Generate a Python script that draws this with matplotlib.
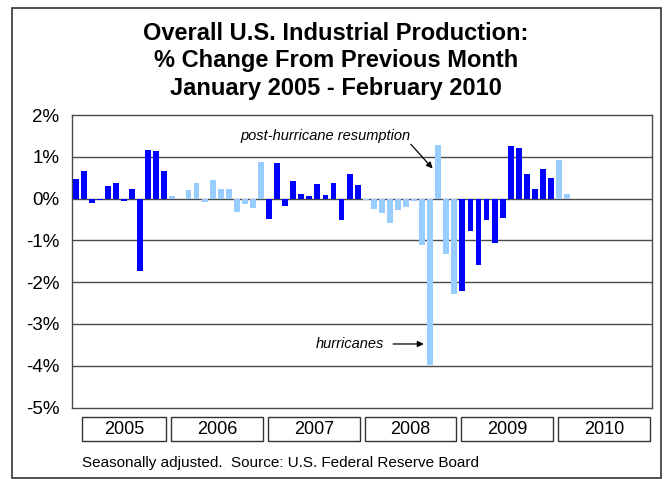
import matplotlib
matplotlib.use("Agg")
import matplotlib.pyplot as plt
from matplotlib.patches import Rectangle
from matplotlib.transforms import blended_transform_factory
import numpy as np

plt.rcParams['font.family'] = ['Liberation Sans', 'DejaVu Sans']

# Monthly % change in industrial production, Jan 2005 - Feb 2010
years = [2005, 2006, 2007, 2008, 2009, 2010]
pct_2005 = [0.46, 0.67, -0.11, -0.04, 0.31, 0.38, -0.07, 0.22, -1.74, 1.17, 1.14, 0.67]
pct_2006 = [0.05, -0.02, 0.21, 0.38, -0.09, 0.45, 0.24, 0.24, -0.32, -0.14, -0.22, 0.87]
pct_2007 = [-0.50, 0.85, -0.18, 0.42, 0.10, 0.07, 0.34, 0.09, 0.38, -0.52, 0.60, 0.33]
pct_2008 = [-0.04, -0.26, -0.34, -0.58, -0.28, -0.21, -0.06, -1.10, -3.98, 1.29, -1.32, -2.29]
pct_2009 = [-2.21, -0.78, -1.60, -0.52, -1.06, -0.46, 1.27, 1.22, 0.60, 0.23, 0.70, 0.50]
pct_2010 = [0.92, 0.10]
yearly = [pct_2005, pct_2006, pct_2007, pct_2008, pct_2009, pct_2010]

y_ticks = [2, 1, 0, -1, -2, -3, -4, -5]
y_tick_labels = ["2%", "1%", "0%", "-1%", "-2%", "-3%", "-4%", "-5%"]

DARK = "#0000FF"
LIGHT = "#99CCFF"

W, H = 668, 479
fig = plt.figure(figsize=(W / 100, H / 100), dpi=100)
fig.patch.set_facecolor("white")

ax_l, ax_r, ax_t, ax_b = 71.7, 651.7, 115.0, 407.5
ax = fig.add_axes([ax_l / W, 1 - ax_b / H, (ax_r - ax_l) / W, (ax_b - ax_t) / H])

# bars, colour alternating by year
for k, vals in enumerate(yearly):
    idx = np.arange(len(vals)) + 12 * k
    ax.bar(idx, vals, width=0.72, color=DARK if k % 2 == 0 else LIGHT,
           edgecolor="none", zorder=3)

ax.set_xlim(-0.5, 12 * len(years) - 0.5)
ax.set_ylim(-5, 2)
ax.set_yticks(y_ticks)
ax.set_yticklabels(y_tick_labels, fontsize=13.5)
ax.tick_params(axis="y", length=0, pad=9)
ax.set_xticks([])
for yv in y_ticks[1:-1]:
    ax.axhline(yv, color="#4a4a4a", lw=1.0, zorder=2)
for sp in ax.spines.values():
    sp.set_color("#4a4a4a")
    sp.set_linewidth(1.0)

# annotations
ax.text(41.5, 1.49, "post-hurricane resumption", style="italic", fontsize=10.5,
        ha="right", va="center")
ax.annotate("", xy=(44.3, 0.72), xytext=(41.6, 1.30),
            arrowprops=dict(arrowstyle="-|>", color="black", lw=0.9,
                            mutation_scale=9, shrinkA=0, shrinkB=0))
ax.text(34.0, -3.48, "hurricanes", style="italic", fontsize=10.5,
        ha="center", va="center")
ax.annotate("", xy=(43.2, -3.48), xytext=(39.4, -3.48),
            arrowprops=dict(arrowstyle="-|>", color="black", lw=0.9,
                            mutation_scale=9, shrinkA=0, shrinkB=0))

# year boxes under the axis
bt = blended_transform_factory(ax.transData, fig.transFigure)
box_top, box_bot = 1 - 416.7 / H, 1 - 440.5 / H
for k, yr in enumerate(years):
    left = 12 * k - 0.5 + (1.25 if k == 0 else 0.35)
    right = 12 * k + 11.5 - 0.25
    fig.add_artist(Rectangle((left, box_bot), right - left, box_top - box_bot,
                             transform=bt, fill=False, ec="#333333", lw=1.0))
    fig.text((left + right) / 2, (box_top + box_bot) / 2 - 0.002, str(yr),
             transform=bt, ha="center", va="center", fontsize=13)

# title
title_lines = ["Overall U.S. Industrial Production:",
               "% Change From Previous Month",
               "January 2005 - February 2010"]
for line, yc in zip(title_lines, [33, 60, 88]):
    fig.text(336 / W, 1 - yc / H, line, ha="center", va="center",
             fontsize=17, fontweight="bold")

fig.text(82 / W, 1 - 463 / H,
         "Seasonally adjusted.  Source: U.S. Federal Reserve Board",
         ha="left", va="center", fontsize=11)

# outer frame
fig.add_artist(Rectangle((12 / W, 1 - 478 / H), (661 - 12) / W, (478 - 8) / H,
                         transform=fig.transFigure, fill=False, ec="#333333", lw=1.2))

fig.savefig("out.png", dpi=100, facecolor="white")
